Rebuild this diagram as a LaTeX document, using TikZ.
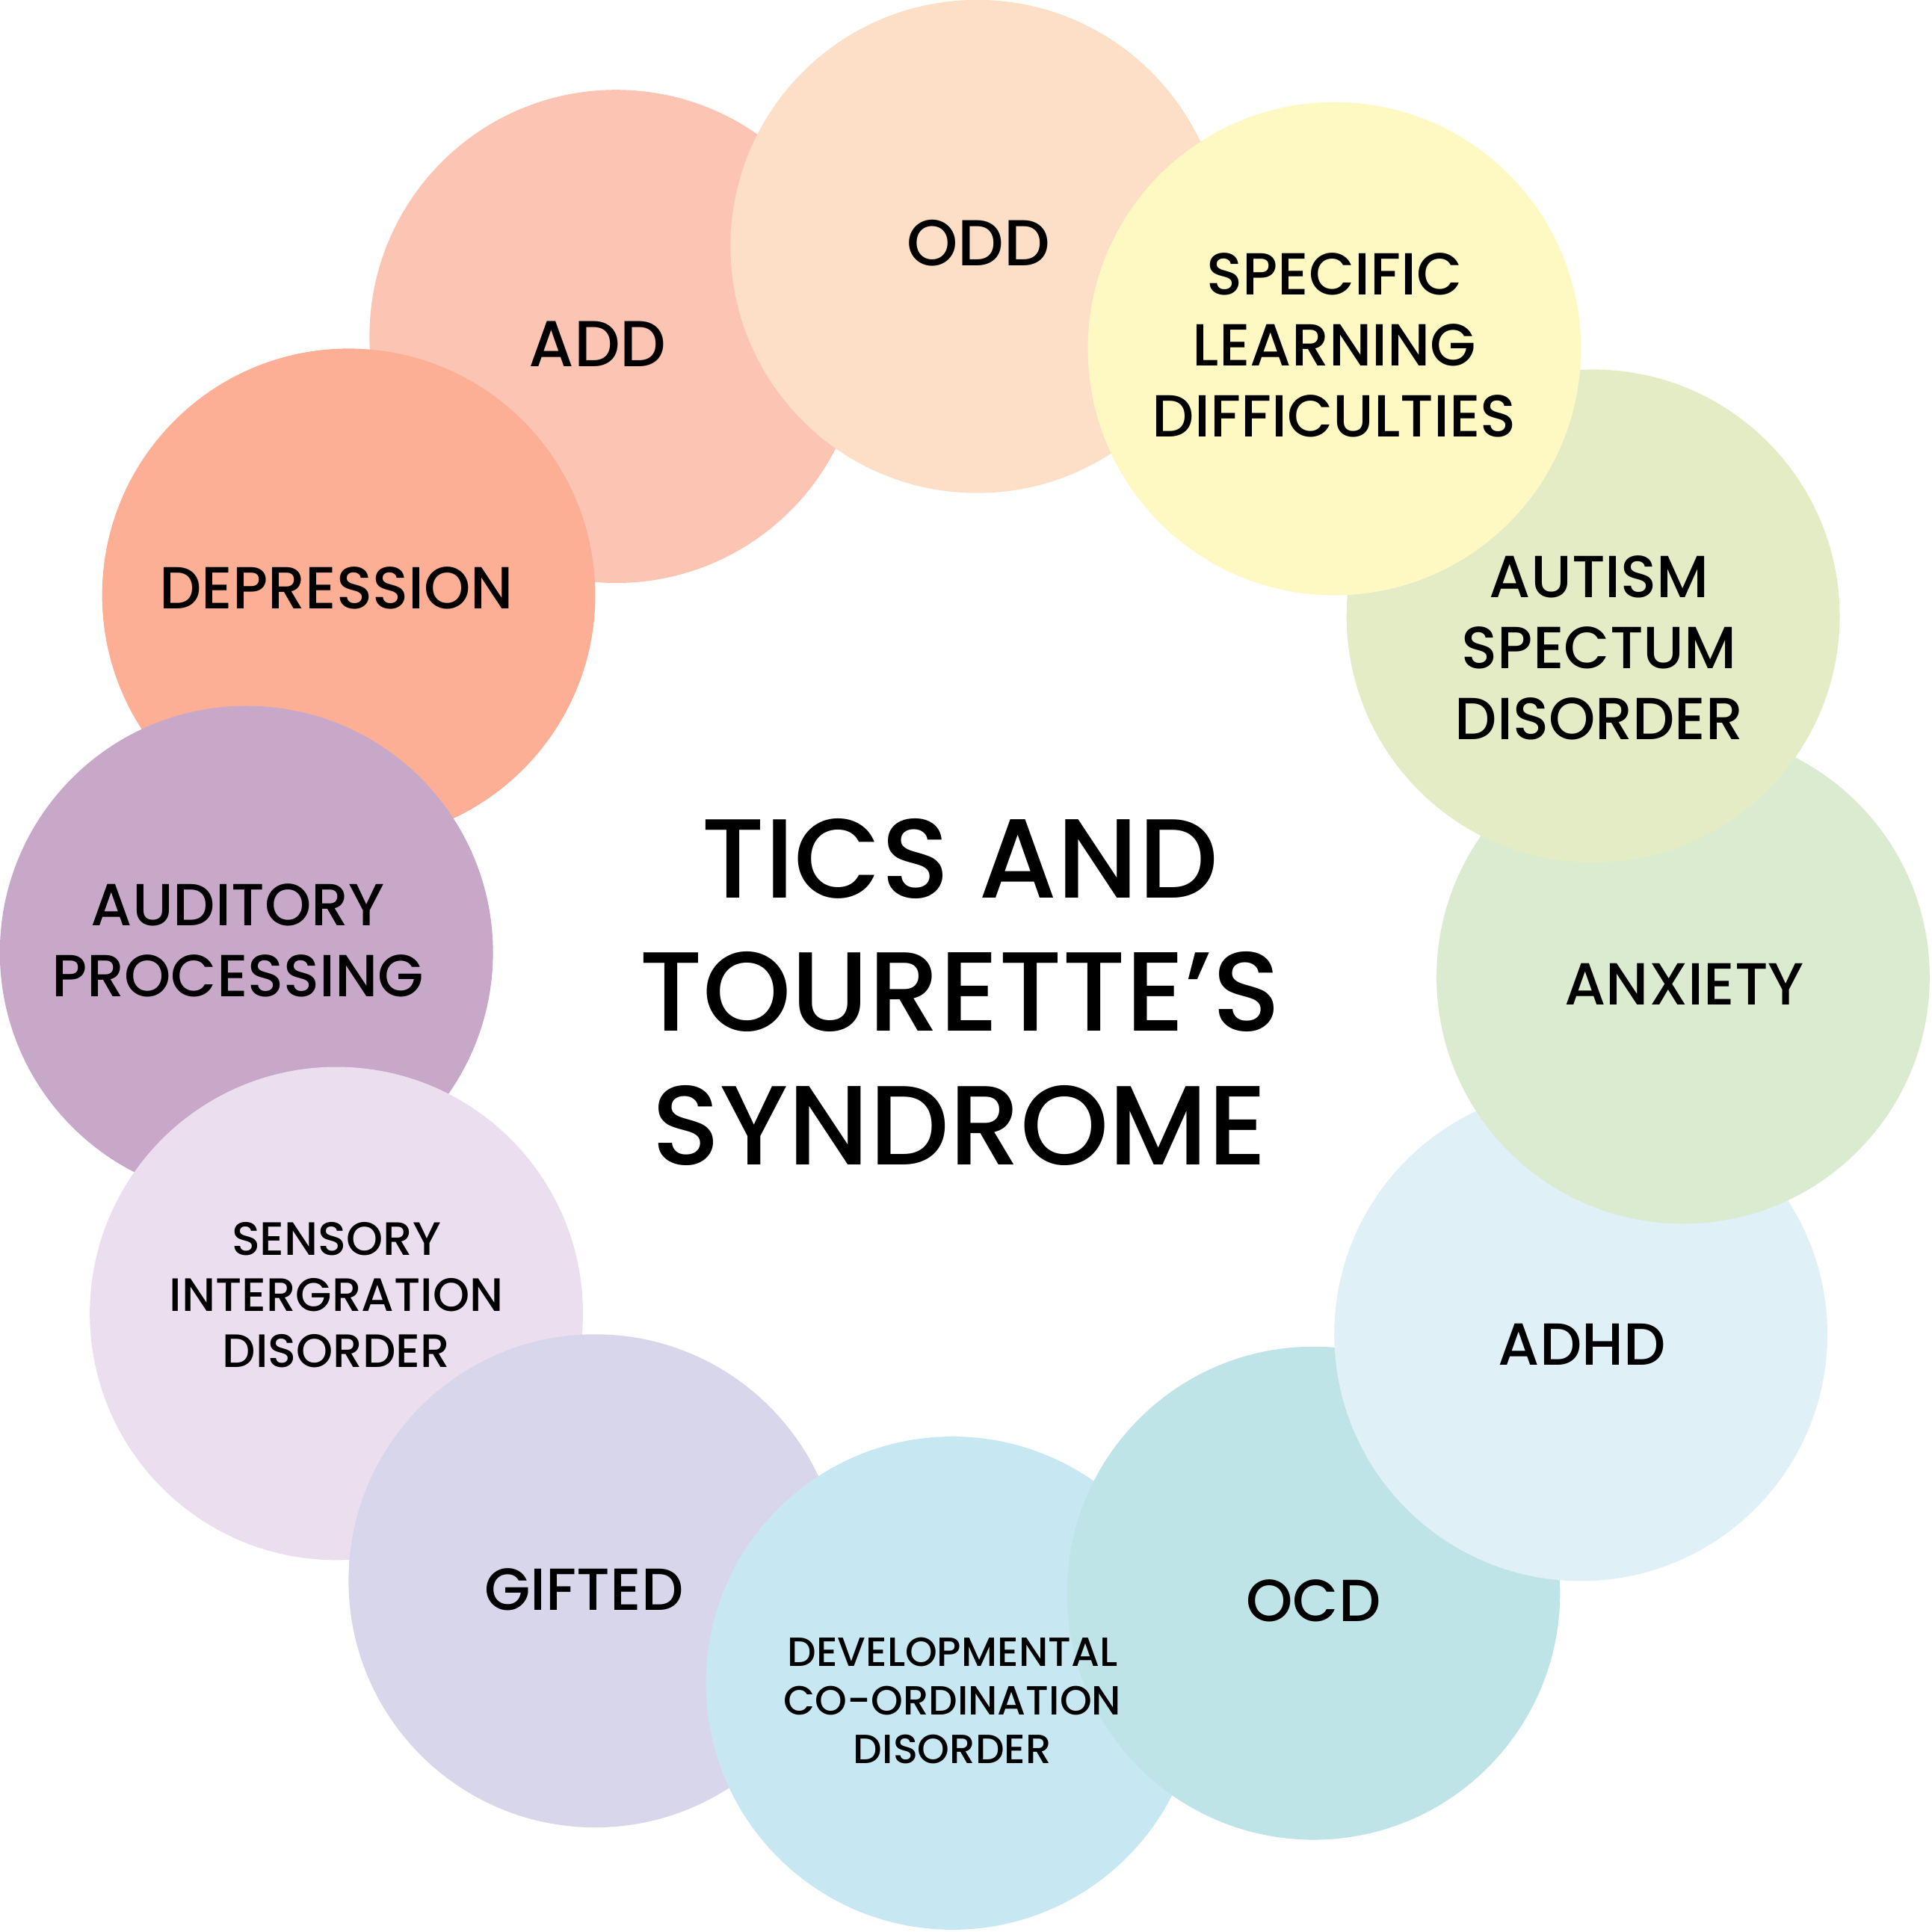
\documentclass[tikz,border=0pt]{standalone}
\usepackage{fontspec}
\setmainfont{Poppins Medium}
\definecolor{cADD}{HTML}{FCC5B3}
\definecolor{cODD}{HTML}{FDDEC6}
\definecolor{cSLD}{HTML}{FEF9C3}
\definecolor{cAUT}{HTML}{E3ECC4}
\definecolor{cANX}{HTML}{DAEBD0}
\definecolor{cADHD}{HTML}{DFF0F6}
\definecolor{cOCD}{HTML}{BFE4E7}
\definecolor{cDEV}{HTML}{C7E8F2}
\definecolor{cGIF}{HTML}{D8D6EA}
\definecolor{cSEN}{HTML}{EBDEEE}
\definecolor{cAUD}{HTML}{C8A8C8}
\definecolor{cDEP}{HTML}{FDAF95}
\tikzset{
  bubble/.style={circle, minimum size=4cm, inner sep=0pt, draw=none},
  lbl/.style={align=center, inner sep=0pt, font=\fontsize{13.7}{16.4}\selectfont},
  lblbig/.style={align=center, inner sep=0pt, font=\fontsize{15}{17}\selectfont},
  lblsmall/.style={align=center, inner sep=0pt, font=\fontsize{10.8}{13}\selectfont},
  lbltiny/.style={align=center, inner sep=0pt, font=\fontsize{9.4}{11.2}\selectfont},
  title/.style={align=center, inner sep=0pt, font=\fontsize{26}{30.8}\selectfont},
}
\begin{document}
\begin{tikzpicture}[x=0.01cm, y=-0.01cm]
\useasboundingbox (0,0) rectangle (1568,1568);
% circles, bottom to top
\node[bubble, fill=cADD] (cadd) at (500,273) {};
\node[bubble, fill=cDEP] (cdep) at (283,483) {};
\node[bubble, fill=cAUD] (caud) at (200,773) {};
\node[bubble, fill=cSEN] (csen) at (273,1066) {};
\node[bubble, fill=cGIF] (cgif) at (483,1283) {};
\node[bubble, fill=cDEV] (cdev) at (773,1366) {};
\node[bubble, fill=cOCD] (cocd) at (1066,1293) {};
\node[bubble, fill=cADHD] (cadhd) at (1283,1083) {};
\node[bubble, fill=cANX] (canx) at (1366,793) {};
\node[bubble, fill=cAUT] (caut) at (1293,500) {};
\node[bubble, fill=cODD] (codd) at (793,200) {};
\node[bubble, fill=cSLD] (csld) at (1083,283) {};
% labels
\node[lblbig] (tadd) at (485,279) {ADD};
\node[lblbig] (todd) at (794,197) {ODD};
\node[lbl] (tsld) at (1083,280) {SPECIFIC\\LEARNING\\DIFFICULTIES};
\node[lbl] (taut) at (1298,526) {AUTISM\\SPECTUM\\DISORDER};
\node[lbl] (tanx) at (1367,799) {ANXIETY};
\node[lbl] (tadhd) at (1284,1091) {ADHD};
\node[lbl] (tocd) at (1066,1299) {OCD};
\node[lbltiny] (tdev) at (773,1380) {DEVELOPMENTAL\\CO-ORDINATION\\DISORDER};
\node[lbl] (tgif) at (474,1290) {GIFTED};
\node[lblsmall] (tsen) at (273,1051) {SENSORY\\INTERGRATION\\DISORDER};
\node[lbl] (taud) at (193,763) {AUDITORY\\PROCESSING};
\node[lbl] (tdep) at (273,477) {DEPRESSION};
\node[title] (ttitle) at (779,805) {TICS AND\\TOURETTE’S\\SYNDROME};
\end{tikzpicture}
\end{document}
